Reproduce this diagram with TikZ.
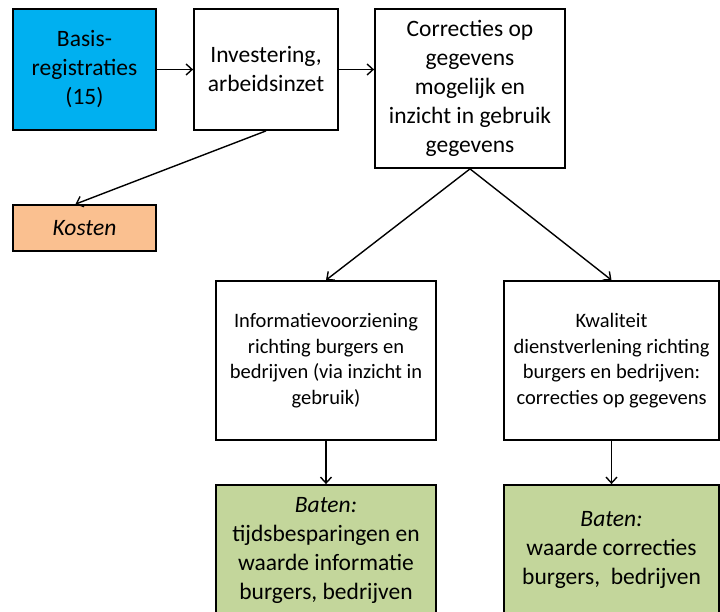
\documentclass[tikz,border=0pt]{standalone}
\usepackage{fontspec}
\setmainfont{Carlito}
\usepackage{xcolor}
\usepackage{tikz}
\usetikzlibrary{arrows.meta}

\definecolor{basisblauw}{HTML}{00B0F0}
\definecolor{kostenoranje}{HTML}{FAC090}
\definecolor{batengroen}{HTML}{C3D69B}

\begin{document}
\begin{tikzpicture}[x=1pt,y=-1pt,
  main node/.style={rectangle,draw,line width=1.8pt,align=center,inner sep=2pt,
    font=\fontsize{23.5}{29}\selectfont},
  small node/.style={main node,font=\fontsize{20.5}{25.5}\selectfont},
  pijl/.style={-{Straight Barb[length=6pt,width=11pt]},line width=1.4pt}]
        \useasboundingbox (0,0) rectangle (720,612);
        \clip (0,0) rectangle (720,612);
        \node[main node,fill=basisblauw,minimum width=143pt,minimum height=121pt] (basis) at (84.5,69.5) {Basis-\\registraties\\(15)};
        \node[main node,minimum width=144pt,minimum height=121pt] (invest) at (266,69.5) {Investering,\\arbeidsinzet};
        \node[main node,minimum width=190pt,minimum height=159pt] (corr) at (470,88.5) {Correcties op\\gegevens\\mogelijk en\\inzicht in gebruik\\gegevens};
        \node[main node,fill=kostenoranje,minimum width=143pt,minimum height=46pt] (kosten) at (84.5,228) {\textit{Kosten}};
        \node[small node,minimum width=220pt,minimum height=159pt] (info) at (326,360.5) {Informatievoorziening\\richting burgers en\\bedrijven (via inzicht in\\gebruik)};
        \node[small node,minimum width=215pt,minimum height=159pt] (kwal) at (611.5,360.5) {Kwaliteit\\dienstverlening richting\\burgers en bedrijven:\\correcties op gegevens};
        \node[main node,fill=batengroen,minimum width=220pt,minimum height=130pt] (baten1) at (326,550) {\textit{Baten:}\\tijdsbesparingen en\\waarde informatie\\burgers, bedrijven};
        \node[main node,fill=batengroen,minimum width=215pt,minimum height=130pt] (baten2) at (611.5,550) {\textit{Baten:}\\waarde correcties\\burgers,\ \ bedrijven};
        \path[pijl]
          (basis) edge (invest)
          (invest.east) edge (invest.east -| corr.west)
          (invest.south) edge ([xshift=-9pt]kosten.north)
          (corr.south) edge (info.north)
          (corr.south) edge (kwal.north)
          (info) edge (baten1)
          (kwal) edge (baten2);
      \end{tikzpicture}
\end{document}
